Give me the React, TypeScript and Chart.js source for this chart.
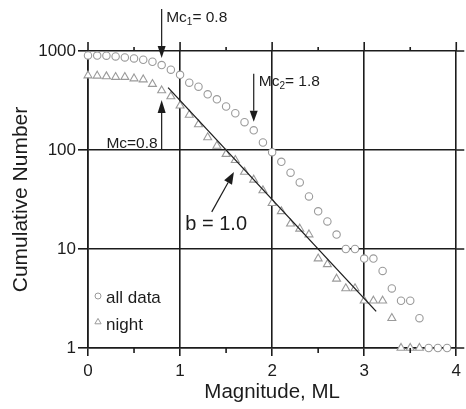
import React, { useEffect, useRef } from "react";
import { Chart, registerables } from "chart.js";

Chart.register(...registerables);

// Magnitude bins (ML) and cumulative event counts per bin
const magnitudes = [
  0.0, 0.1, 0.2, 0.3, 0.4, 0.5, 0.6, 0.7, 0.8, 0.9,
  1.0, 1.1, 1.2, 1.3, 1.4, 1.5, 1.6, 1.7, 1.8, 1.9,
  2.0, 2.1, 2.2, 2.3, 2.4, 2.5, 2.6, 2.7, 2.8, 2.9,
  3.0, 3.1, 3.2, 3.3, 3.4, 3.5, 3.6, 3.7, 3.8, 3.9,
];

const allDataCounts = [
  903, 900, 896, 882, 862, 842, 816, 779, 721, 647,
  575, 479, 436, 365, 325, 275, 235, 191, 158, 119,
  95, 76, 59, 47, 34, 24, 19, 14, 10, 10,
  8, 8, 6, 4, 3, 3, 2, 1, 1, 1,
];

const nightCounts = [
  565, 562, 553, 545, 545, 527, 515, 463, 399, 347,
  280, 226, 181, 134, 110, 91, 79, 60, 50, 39,
  29, 24, 18, 16, 14, 8, 7, 5, 4, 4,
  3, 3, 3, 2, 1, 1, 1,
];

const xTickValues = [0, 1, 2, 3, 4];
const yTickValues = [1, 10, 100, 1000];

// Gutenberg-Richter fit: log10(N) = a - b * M
const fitA = 3.5;
const fitB = 1.0;
const fitRange = [0.87, 3.13];

// Magnitudes of completeness
const mc1 = 0.8;
const mc2 = 1.8;
const mcNight = 0.8;

const FONT = '"Liberation Sans", Arial, Helvetica, sans-serif';
const INK = "#1c1c1c";
const MARK = "#9a9a9a";

function drawArrow(
  ctx: CanvasRenderingContext2D,
  x0: number,
  y0: number,
  x1: number,
  y1: number,
  head = 11,
  half = 4
) {
  const dx = x1 - x0;
  const dy = y1 - y0;
  const len = Math.hypot(dx, dy);
  const ux = dx / len;
  const uy = dy / len;
  const bx = x1 - ux * head;
  const by = y1 - uy * head;
  ctx.beginPath();
  ctx.moveTo(x0, y0);
  ctx.lineTo(bx, by);
  ctx.stroke();
  ctx.beginPath();
  ctx.moveTo(x1, y1);
  ctx.lineTo(bx - uy * half, by + ux * half);
  ctx.lineTo(bx + uy * half, by - ux * half);
  ctx.closePath();
  ctx.fill();
}

// "Mc" + optional subscript + remainder, drawn left to right from (x, baseline)
function drawMcLabel(
  ctx: CanvasRenderingContext2D,
  x: number,
  baseline: number,
  sub: string,
  rest: string,
  align: "left" | "right" = "left"
) {
  const main = `15.5px ${FONT}`;
  const small = `10px ${FONT}`;
  ctx.font = main;
  const wMc = ctx.measureText("Mc").width;
  const wRest = ctx.measureText(rest).width;
  ctx.font = small;
  const wSub = sub ? ctx.measureText(sub).width : 0;
  const total = wMc + wSub + wRest;
  let cx = align === "right" ? x - total : x;
  ctx.textAlign = "left";
  ctx.textBaseline = "alphabetic";
  ctx.font = main;
  ctx.fillText("Mc", cx, baseline);
  cx += wMc;
  if (sub) {
    ctx.font = small;
    ctx.fillText(sub, cx, baseline + 3);
    cx += wSub;
  }
  ctx.font = main;
  ctx.fillText(rest, cx, baseline);
}

const annotationsPlugin = {
  id: "mcAnnotations",
  afterDatasetsDraw(chart: any) {
    const { ctx, scales } = chart;
    const x = scales.x;
    const y = scales.y;
    ctx.save();
    ctx.strokeStyle = INK;
    ctx.fillStyle = INK;
    ctx.lineWidth = 1.2;

    // Mc1 for the full catalogue, arrow pointing down onto the curve
    const p1 = x.getPixelForValue(mc1);
    drawArrow(ctx, p1, 9, p1, y.getPixelForValue(850), 12, 4);
    drawMcLabel(ctx, p1 + 4.5, 22, "1", "= 0.8");

    // Mc2 for the full catalogue
    const p2 = x.getPixelForValue(mc2);
    drawArrow(ctx, p2, y.getPixelForValue(590), p2, y.getPixelForValue(193), 11, 4);
    drawMcLabel(ctx, p2 + 5, 86, "2", "= 1.8");

    // Mc for the night-time subset, arrow pointing up
    const pn = x.getPixelForValue(mcNight);
    drawArrow(ctx, pn, y.getPixelForValue(100), pn, y.getPixelForValue(320), 13, 4);
    drawMcLabel(ctx, pn - 4, y.getPixelForValue(100) - 2, "", "=0.8", "right");

    // b-value label
    drawArrow(
      ctx,
      x.getPixelForValue(1.344),
      y.getPixelForValue(23.7),
      x.getPixelForValue(1.585),
      y.getPixelForValue(60),
      12,
      4.5
    );
    ctx.font = `20px ${FONT}`;
    ctx.textAlign = "left";
    ctx.textBaseline = "alphabetic";
    ctx.fillText(`b = ${fitB.toFixed(1)}`, x.getPixelForValue(1.057), y.getPixelForValue(15.5));
    ctx.restore();
  },
};

const frameTicksPlugin = {
  id: "frameTicks",
  afterDraw(chart: any) {
    const { ctx, chartArea, scales } = chart;
    const { top, right, bottom } = chartArea;
    const x = scales.x;
    const y = scales.y;
    ctx.save();
    ctx.strokeStyle = INK;
    ctx.lineWidth = 1.6;
    ctx.beginPath();
    const xt = x.ticks.map((t: any) => t.value);
    xt.forEach((v: number, i: number) => {
      const px = x.getPixelForValue(v);
      ctx.moveTo(px, top);
      ctx.lineTo(px, top - 9);
      if (i < xt.length - 1) {
        const mid = x.getPixelForValue((v + xt[i + 1]) / 2);
        ctx.moveTo(mid, top);
        ctx.lineTo(mid, top - 4);
        ctx.moveTo(mid, bottom);
        ctx.lineTo(mid, bottom + 5);
      }
    });
    y.ticks.forEach((t: any) => {
      const py = y.getPixelForValue(t.value);
      ctx.moveTo(right, py);
      ctx.lineTo(right + 8, py);
    });
    ctx.stroke();
    ctx.restore();
  },
};

const insetLegendPlugin = {
  id: "insetLegend",
  afterDraw(chart: any) {
    const { ctx, chartArea } = chart;
    const items = chart.data.datasets.filter((d: any) => !d.showLine);
    ctx.save();
    items.forEach((d: any, i: number) => {
      const mx = chartArea.left + 10;
      const my = chartArea.bottom - 52 + i * 26;
      ctx.strokeStyle = MARK;
      ctx.fillStyle = "#ffffff";
      ctx.lineWidth = 1;
      ctx.beginPath();
      if (d.pointStyle === "triangle") {
        const r = 3.6;
        ctx.moveTo(mx, my - r);
        ctx.lineTo(mx + r * 0.866, my + r * 0.5);
        ctx.lineTo(mx - r * 0.866, my + r * 0.5);
        ctx.closePath();
      } else {
        ctx.arc(mx, my, 3, 0, Math.PI * 2);
      }
      ctx.fill();
      ctx.stroke();
      ctx.fillStyle = INK;
      ctx.font = `17px ${FONT}`;
      ctx.textAlign = "left";
      ctx.textBaseline = "middle";
      ctx.fillText(d.label, mx + 8, my + 2 + i * 1);
    });
    ctx.restore();
  },
};

export default function App() {
  const canvasRef = useRef<HTMLCanvasElement | null>(null);

  useEffect(() => {
    const canvas = canvasRef.current;
    if (!canvas) return;

    const fitLine = fitRange.map((m) => ({ x: m, y: Math.pow(10, fitA - fitB * m) }));

    const chart = new Chart(canvas, {
      type: "scatter",
      data: {
        datasets: [
          {
            label: "b = 1.0",
            data: fitLine,
            showLine: true,
            borderColor: INK,
            borderWidth: 1.3,
            pointRadius: 0,
            clip: false,
          } as any,
          {
            label: "all data",
            data: magnitudes.map((m, i) => ({ x: m, y: allDataCounts[i] })),
            pointStyle: "circle",
            pointRadius: 3.7,
            borderColor: MARK,
            backgroundColor: "#ffffff",
            borderWidth: 1.1,
            clip: false,
          } as any,
          {
            label: "night",
            data: nightCounts.map((n, i) => ({ x: magnitudes[i], y: n })),
            pointStyle: "triangle",
            pointRadius: 4.6,
            borderColor: MARK,
            backgroundColor: "#ffffff",
            borderWidth: 1.1,
            clip: false,
          } as any,
        ],
      },
      options: {
        responsive: false,
        animation: false,
        events: [],
        layout: { padding: { top: 51, right: 7, left: 0, bottom: 0 } },
        plugins: {
          legend: { display: false },
          tooltip: { enabled: false },
        },
        scales: {
          x: {
            type: "linear",
            position: "bottom",
            min: 0,
            max: 4,
            afterBuildTicks: (s: any) => {
              s.ticks = xTickValues.map((v) => ({ value: v }));
            },
            afterFit: (s: any) => {
              s.height = 61;
            },
            ticks: {
              font: { family: FONT, size: 17 },
              color: INK,
              padding: 5,
              callback: (v: any) => String(v),
            },
            grid: {
              color: INK,
              lineWidth: 1.6,
              drawTicks: true,
              tickLength: 8,
              tickColor: INK,
              tickWidth: 1.6,
            },
            border: { display: true, color: INK, width: 1.6 },
            title: {
              display: true,
              text: "Magnitude, ML",
              font: { family: FONT, size: 20.5 },
              color: INK,
              padding: { top: 0, bottom: 4 },
            },
          },
          y: {
            type: "logarithmic",
            position: "left",
            min: 1,
            max: 1000,
            afterBuildTicks: (s: any) => {
              s.ticks = yTickValues.map((v) => ({ value: v }));
            },
            afterFit: (s: any) => {
              s.width = 88;
            },
            ticks: {
              font: { family: FONT, size: 17 },
              color: INK,
              padding: 2,
              callback: (v: any) => String(v),
            },
            grid: {
              color: INK,
              lineWidth: 1.6,
              drawTicks: true,
              tickLength: 10,
              tickColor: INK,
              tickWidth: 1.6,
            },
            border: { display: true, color: INK, width: 1.6 },
            title: {
              display: true,
              text: "Cumulative Number",
              font: { family: FONT, size: 21 },
              color: INK,
              padding: { top: 9, bottom: 0 },
            },
          },
        },
      } as any,
      plugins: [annotationsPlugin, frameTicksPlugin, insetLegendPlugin],
    });

    return () => chart.destroy();
  }, []);

  return (
    <div style={{ position: "fixed", left: 0, top: 0, width: 466, height: 409, background: "#fff" }}>
      <canvas ref={canvasRef} width={466} height={409} style={{ display: "block" }} />
    </div>
  );
}
